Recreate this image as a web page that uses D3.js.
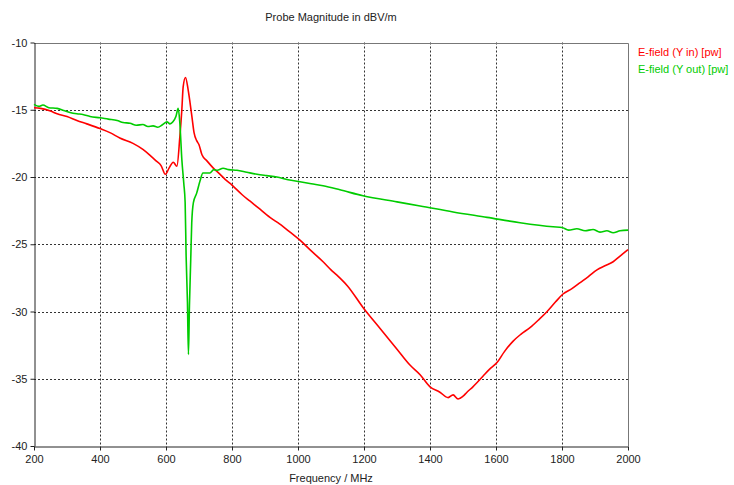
<!DOCTYPE html>
<html>
<head>
<meta charset="utf-8">
<script src="https://cdn.jsdelivr.net/npm/d3@7"></script>
<style>
  body { margin: 0; background: #fff; }
  text { font-family: "Liberation Sans", Arial, sans-serif; font-size: 11px; fill: #222; }
</style>
</head>
<body>
<div id="chart"></div>
<script>
// E-field (Y in) [pw]
let freqIn = [200, 220, 250, 270, 300, 330, 360, 400, 430, 460, 500, 530, 550, 570, 585, 598,
    610, 622, 633, 642, 648, 652, 659, 667, 673, 679, 685, 693, 700, 709, 724, 742, 764, 780,
    800, 830, 855, 880, 915, 945, 976, 1006, 1036, 1076, 1100, 1118, 1150, 1197, 1250, 1300,
    1340, 1370, 1400, 1430, 1455, 1470, 1485, 1500, 1512, 1530, 1542, 1561, 1580, 1603, 1625,
    1652, 1675, 1703, 1730, 1755, 1780, 1803, 1830, 1855, 1880, 1906, 1930, 1955, 1975, 2000];
let eIn = [-14.85, -14.9, -15.1, -15.3, -15.5, -15.8, -16.05, -16.4, -16.7, -17.1, -17.5, -17.95,
    -18.35, -18.8, -19.15, -19.8, -19.3, -18.9, -19.2, -17.0, -15.0, -13.3, -12.6, -13.5, -14.5,
    -15.6, -16.7, -17.3, -17.6, -18.35, -18.8, -19.3, -19.8, -20.2, -20.6, -21.3, -21.8, -22.3,
    -23.0, -23.5, -24.1, -24.7, -25.4, -26.3, -26.9, -27.3, -28.1, -29.7, -31.3, -32.8, -34.0,
    -34.7, -35.6, -36.0, -36.4, -36.2, -36.5, -36.3, -36.0, -35.6, -35.3, -34.8, -34.3, -33.8,
    -33.0, -32.2, -31.7, -31.2, -30.6, -30.0, -29.3, -28.7, -28.3, -27.85, -27.4, -26.9, -26.6,
    -26.3, -25.9, -25.4];

// E-field (Y out) [pw]
let freqOut = [200, 215, 227, 245, 270, 290, 309, 330, 348, 370, 400, 425, 452, 470, 491, 510,
    530, 545, 561, 575, 590, 603, 612, 621, 630, 637, 642, 648, 654, 658, 661, 665, 668, 671,
    675, 678, 683, 693, 703, 712, 733, 745, 755, 773, 790, 815, 845, 876, 905, 936, 970, 1006,
    1040, 1076, 1127, 1197, 1300, 1370, 1470, 1573, 1673, 1773, 1800, 1820, 1845, 1870, 1894,
    1915, 1936, 1955, 1976, 2000];
let eOut = [-14.6, -14.75, -14.65, -14.85, -14.9, -15.05, -15.2, -15.3, -15.35, -15.5, -15.6,
    -15.7, -15.8, -15.95, -16.0, -16.15, -16.1, -16.25, -16.2, -16.3, -16.1, -15.9, -16.05, -15.9,
    -15.5, -14.9, -16.0, -18.7, -20.5, -21.9, -25.9, -29.3, -33.2, -29.6, -26.1, -23.4, -21.9,
    -21.2, -20.3, -19.7, -19.7, -19.45, -19.5, -19.35, -19.45, -19.5, -19.65, -19.8, -19.9, -20.0,
    -20.2, -20.35, -20.5, -20.65, -20.95, -21.4, -21.85, -22.15, -22.6, -23.0, -23.4, -23.7,
    -23.75, -23.95, -23.85, -24.0, -23.9, -24.1, -24.0, -24.15, -24.0, -23.95];

let xTicks = [200, 400, 600, 800, 1000, 1200, 1400, 1600, 1800, 2000];
let yTicks = [-40, -35, -30, -25, -20, -15, -10];
let seriesNames = ["E-field (Y in) [pw]", "E-field (Y out) [pw]"];
let seriesColors = ["#ff0000", "#00cc00"];

let W = 734, H = 485;
let m = {left: 34, right: 628, top: 42.5, bottom: 446};

let svg = d3.select("#chart")
    .append("svg")
        .attr("width", W)
        .attr("height", H);

let x = d3.scaleLinear().domain([200, 2000]).range([m.left, m.right]);
let y = d3.scaleLinear().domain([-40, -10]).range([m.bottom, m.top]);

// dashed grid
svg.append("g")
    .selectAll("line")
    .data(xTicks.slice(1, -1))
    .enter().append("line")
        .attr("x1", d => Math.round(x(d)) + 0.5).attr("x2", d => Math.round(x(d)) + 0.5)
        .attr("y1", m.top).attr("y2", m.bottom)
        .attr("stroke", "#333").attr("stroke-dasharray", "2,2");
svg.append("g")
    .selectAll("line")
    .data(yTicks.slice(1, -1))
    .enter().append("line")
        .attr("y1", d => Math.round(y(d)) + 0.5).attr("y2", d => Math.round(y(d)) + 0.5)
        .attr("x1", m.left).attr("x2", m.right)
        .attr("stroke", "#333").attr("stroke-dasharray", "2,2");

// top and right frame
svg.append("path")
    .attr("d", `M${m.left},${Math.round(m.top) + 0.5}H${Math.round(m.right) + 0.5}V${m.bottom}`)
    .attr("fill", "none").attr("stroke", "#777");

// axes
let xAxis = svg.append("g")
    .attr("transform", `translate(0,${Math.round(m.bottom) + 0.5})`)
    .call(d3.axisBottom(x).tickValues(xTicks).tickFormat(d => String(d))
        .tickSize(4).tickSizeOuter(0).tickPadding(5));
let yAxis = svg.append("g")
    .attr("transform", `translate(${m.left + 0.5},0)`)
    .call(d3.axisLeft(y).tickValues(yTicks).tickFormat(d => String(d))
        .tickSize(4).tickSizeOuter(0).tickPadding(3));
[xAxis, yAxis].forEach(a => {
    a.attr("font-family", null).attr("font-size", null);
    a.select(".domain").attr("stroke", "#222");
    a.selectAll(".tick line").attr("stroke", "#222");
    a.selectAll(".tick text").attr("fill", "#222");
});

// curves
let line = d3.line()
    .curve(d3.curveMonotoneX)
    .x(d => x(d[0]))
    .y(d => y(d[1]));

let series = [d3.zip(freqIn, eIn), d3.zip(freqOut, eOut)];
series.forEach((s, i) => {
    svg.append("path")
        .datum(s)
        .attr("fill", "none")
        .attr("stroke", seriesColors[i])
        .attr("stroke-width", 1.6)
        .attr("stroke-linejoin", "round")
        .attr("d", line);
});

// titles
svg.append("text")
    .attr("x", (m.left + m.right) / 2).attr("y", 21)
    .attr("text-anchor", "middle")
    .text("Probe Magnitude in dBV/m");
svg.append("text")
    .attr("x", (m.left + m.right) / 2).attr("y", 482)
    .attr("text-anchor", "middle")
    .text("Frequency / MHz");

// legend
svg.append("g")
    .selectAll("text")
    .data(seriesNames)
    .enter().append("text")
        .attr("x", 638)
        .attr("y", (d, i) => 56 + i * 17)
        .style("fill", (d, i) => seriesColors[i])
        .text(d => d);
</script>
</body>
</html>
